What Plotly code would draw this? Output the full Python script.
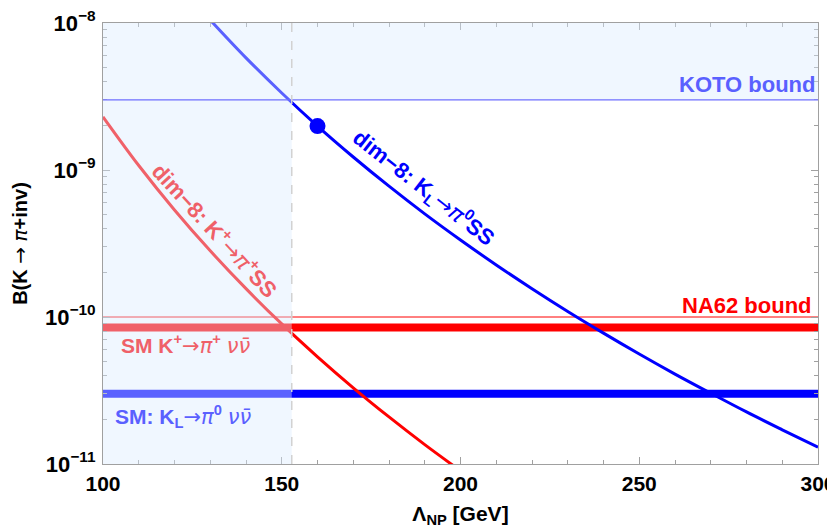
import plotly.graph_objects as go
import math

# ---- data ----
lam_KL = [130, 140, 150, 160, 170, 180, 190, 200, 210, 220, 230, 240, 250, 260, 270, 280, 290, 300]
B_KL = [1.047e-8, 5.79e-9, 3.34e-9, 1.99e-9, 1.226e-9, 7.76e-10, 5.03e-10, 3.34e-10, 2.26e-10,
        1.558e-10, 1.091e-10, 7.77e-11, 5.60e-11, 4.09e-11, 3.03e-11, 2.26e-11, 1.709e-11, 1.30e-11]

lam_Kp = [100, 110, 120, 130, 140, 150, 160, 170, 180, 190, 200]
B_Kp = [2.30e-9, 1.073e-9, 5.35e-10, 2.82e-10, 1.559e-10, 8.97e-11, 5.36e-11, 3.30e-11,
        2.09e-11, 1.354e-11, 8.99e-12]

dot_lam = [160]
dot_B = [1.99e-9]

SM_Kp = 8.5e-11
SM_KL = 3.0e-11
NA62_bound = 1.0e-10
KOTO_bound = 3.0e-9
lam_cut = 152.8

x_range = [100, 300]
y_range = [1e-11, 1e-8]

x_ticks = [100, 150, 200, 250, 300]
x_ticktext = ["100", "150", "200", "250", "300"]
y_ticks = [1e-11, 1e-10, 1e-9, 1e-8]
y_ticktext = ["10<sup>−11</sup>", "10<sup>−10</sup>", "10<sup>−9</sup>", "10<sup>−8</sup>"]

FONT = "Arial, Liberation Sans, sans-serif"
RED = "#ff0000"
BLUE = "#0000ff"
LRED = "#ef6068"
LBLUE = "#5a60ff"

NUNU = '<span style="font-family:DejaVu Sans;font-weight:normal"><i>νν̄</i></span>'
PI = '<span style="font-family:DejaVu Sans;font-weight:normal"><i>π</i></span>'
ARR = '<span style="font-family:DejaVu Sans;font-weight:normal">→</span>'

fig = go.Figure()

# SM bands
fig.add_trace(go.Scatter(x=x_range, y=[SM_Kp, SM_Kp], mode="lines",
                         line=dict(color=RED, width=8), hoverinfo="skip"))
fig.add_trace(go.Scatter(x=x_range, y=[SM_KL, SM_KL], mode="lines",
                         line=dict(color=BLUE, width=8), hoverinfo="skip"))
# NA62 bound (thin)
fig.add_trace(go.Scatter(x=x_range, y=[NA62_bound, NA62_bound], mode="lines",
                         line=dict(color=RED, width=1), hoverinfo="skip"))
# dim-8 curves
fig.add_trace(go.Scatter(x=lam_Kp, y=B_Kp, mode="lines", line_shape="spline",
                         line=dict(color=RED, width=3)))
fig.add_trace(go.Scatter(x=lam_KL, y=B_KL, mode="lines", line_shape="spline",
                         line=dict(color=BLUE, width=3)))
# point
fig.add_trace(go.Scatter(x=dot_lam, y=dot_B, mode="markers",
                         marker=dict(color=BLUE, size=16)))

# shaded (excluded) region overlays, drawn above the curves
overlay = "rgba(218,235,255,0.41)"
fig.add_shape(type="rect", xref="x", yref="y", x0=x_range[0], x1=lam_cut,
              y0=y_range[0], y1=y_range[1], fillcolor=overlay, line_width=0, layer="above")
fig.add_shape(type="rect", xref="x", yref="y", x0=lam_cut, x1=x_range[1],
              y0=KOTO_bound, y1=y_range[1], fillcolor=overlay, line_width=0, layer="above")
# KOTO line
fig.add_shape(type="line", xref="x", yref="y", x0=x_range[0], x1=x_range[1],
              y0=KOTO_bound, y1=KOTO_bound, line=dict(color="#6f6fff", width=1.2), layer="above")
# dashed vertical line
fig.add_shape(type="line", xref="x", yref="y", x0=lam_cut, x1=lam_cut,
              y0=y_range[0], y1=y_range[1], line=dict(color="#d2d2d2", width=1.5, dash="dash"),
              layer="above")

def ann(text, x, ly, color, size=22, angle=0, xanchor="center", xshift=0):
    fig.add_annotation(text=text, x=x, y=ly, xref="x", yref="y", showarrow=False,
                       textangle=angle, xanchor=xanchor, yanchor="middle", xshift=xshift,
                       font=dict(family=FONT, size=size, color=color, weight="bold"))

ann("KOTO bound", 300, -8.416, LBLUE, xanchor="right", xshift=-1)
ann("NA62 bound", 300, -9.923, RED, xanchor="right", xshift=-4)
ann("SM K<sup>+</sup>" + ARR + PI + "<sup>+</sup> " + NUNU, 104.6, -10.19, LRED, size=21, xanchor="left")
ann("SM: K<sub>L</sub>" + ARR + PI + "<sup>0</sup> " + NUNU, 102.8, -10.675, LBLUE, size=21, xanchor="left")
ann("dim−8: K<sup>+</sup>" + ARR + PI + "<sup>+</sup>SS", 131.6, -9.409, LRED, size=22, angle=47.5)
ann("dim−8: K<sub>L</sub>" + ARR + PI + "<sup>0</sup>SS", 189.8, -9.116, BLUE, size=22, angle=38)

axis_common = dict(showline=True, linecolor="#a0a0a0", linewidth=1.2, mirror="ticks",
                   ticks="inside", tickcolor="#a0a0a0", ticklen=7, showgrid=False, zeroline=False,
                   automargin=False, ticklabeloverflow="allow")

fig.update_xaxes(range=x_range, tickvals=x_ticks, ticktext=x_ticktext,
                 tickfont=dict(family=FONT, size=21, color="black", weight="bold"),
                 ticklabelstandoff=1,
                 minor=dict(ticks="inside", dtick=10, ticklen=4, tickcolor="#a0a0a0", showgrid=False),
                 title=dict(text="Λ<sub>NP</sub> [GeV]", standoff=22,
                            font=dict(family=FONT, size=21, color="black", weight="bold")),
                 **axis_common)
fig.update_yaxes(type="log", range=[math.log10(y_range[0]), math.log10(y_range[1])],
                 tickvals=y_ticks, ticktext=y_ticktext,
                 tickfont=dict(family=FONT, size=22, color="black", weight="bold"),
                 ticklabelstandoff=2,
                 minor=dict(ticks="inside", dtick="D1", ticklen=4, tickcolor="#a0a0a0", showgrid=False),
                 title=dict(text="B(K " + ARR + " " + PI + "+inv)", standoff=24,
                            font=dict(family=FONT, size=20, color="black", weight="bold")),
                 **axis_common)

fig.update_layout(width=827, height=520, showlegend=False,
                  margin=dict(l=95, r=17, t=15, b=64, autoexpand=False),
                  plot_bgcolor="white", paper_bgcolor="white")

fig.write_html("out.html")
